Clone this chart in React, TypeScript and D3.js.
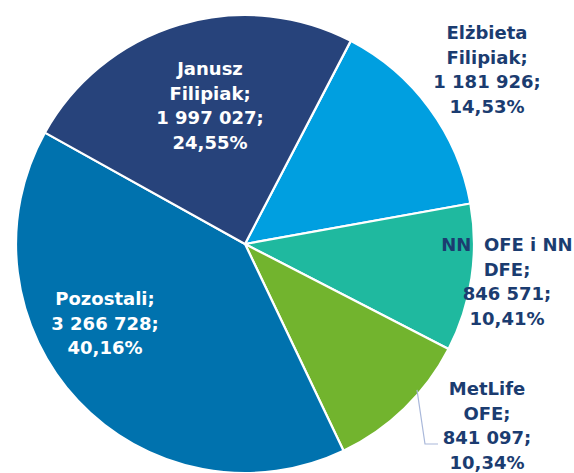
import React from "react";
import * as d3 from "d3";

const names = ["Elżbieta Filipiak", "NN OFE i NN DFE", "MetLife OFE", "Pozostali", "Janusz Filipiak"];
const values = [1181926, 846571, 841097, 3266728, 1997027];
const percents = ["14,53%", "10,41%", "10,34%", "40,16%", "24,55%"];
const labelLines = [
  ["Elżbieta", "Filipiak;", "1 181 926;", "14,53%"],
  ["NN  OFE i NN", "DFE;", "846 571;", "10,41%"],
  ["MetLife", "OFE;", "841 097;", "10,34%"],
  ["Pozostali;", "3 266 728;", "40,16%"],
  ["Janusz", "Filipiak;", "1 997 027;", "24,55%"],
];
const colors = ["#009FE0", "#1FB99F", "#72B42E", "#0072AE", "#27437B"];
const inside = [false, false, false, true, true];

// label layout (first baseline x,y)
const labelPos: [number, number][] = [
  [487, 39],
  [507, 251],
  [487, 395],
  [105, 305],
  [210, 75],
];

const W = 574, H = 473;
const cx = 245, cy = 244, R = 229;
const startDeg = 27.5;

export default function App() {
  const pie = d3
    .pie<number>()
    .sort(null)
    .value((d) => d)
    .startAngle((startDeg * Math.PI) / 180)
    .endAngle((startDeg * Math.PI) / 180 + 2 * Math.PI);
  const arcs = pie(values);
  const arc = d3.arc<d3.PieArcDatum<number>>().innerRadius(0).outerRadius(R);
  const lineH = 24.7;

  const ml = arcs[2];
  const a0 = ml.startAngle + (ml.endAngle - ml.startAngle) * 0.35;
  const p0: [number, number] = [cx + Math.sin(a0) * R * 0.985, cy - Math.cos(a0) * R * 0.985];

  return (
    <svg width={W} height={H} style={{ position: "absolute", left: 0, top: 0, background: "#fff" }}
      fontFamily="'DejaVu Sans', Verdana, sans-serif">
      <g transform={`translate(${cx},${cy})`}>
        {arcs.map((a, i) => (
          <path key={names[i]} d={arc(a) || ""} fill={colors[i]} stroke="#fff" strokeWidth={2.2} strokeLinejoin="round" />
        ))}
      </g>
      <polyline
        points={`${p0[0]},${p0[1]} 425,444 438,444`}
        fill="none"
        stroke="#A9B8DA"
        strokeWidth={1.2}
      />
      {labelLines.map((lines, i) => (
        <text
          key={"l" + i}
          x={labelPos[i][0]}
          y={labelPos[i][1]}
          textAnchor="middle"
          fontWeight="bold"
          fontSize={18}
          fill={inside[i] ? "#ffffff" : "#1B3C70"}
          style={{ whiteSpace: "pre" }}
          data-name={names[i]}
          data-pct={percents[i]}
        >
          {lines.map((t, j) => (
            <tspan key={j} x={labelPos[i][0]} dy={j === 0 ? 0 : lineH}>
              {t}
            </tspan>
          ))}
        </text>
      ))}
    </svg>
  );
}
